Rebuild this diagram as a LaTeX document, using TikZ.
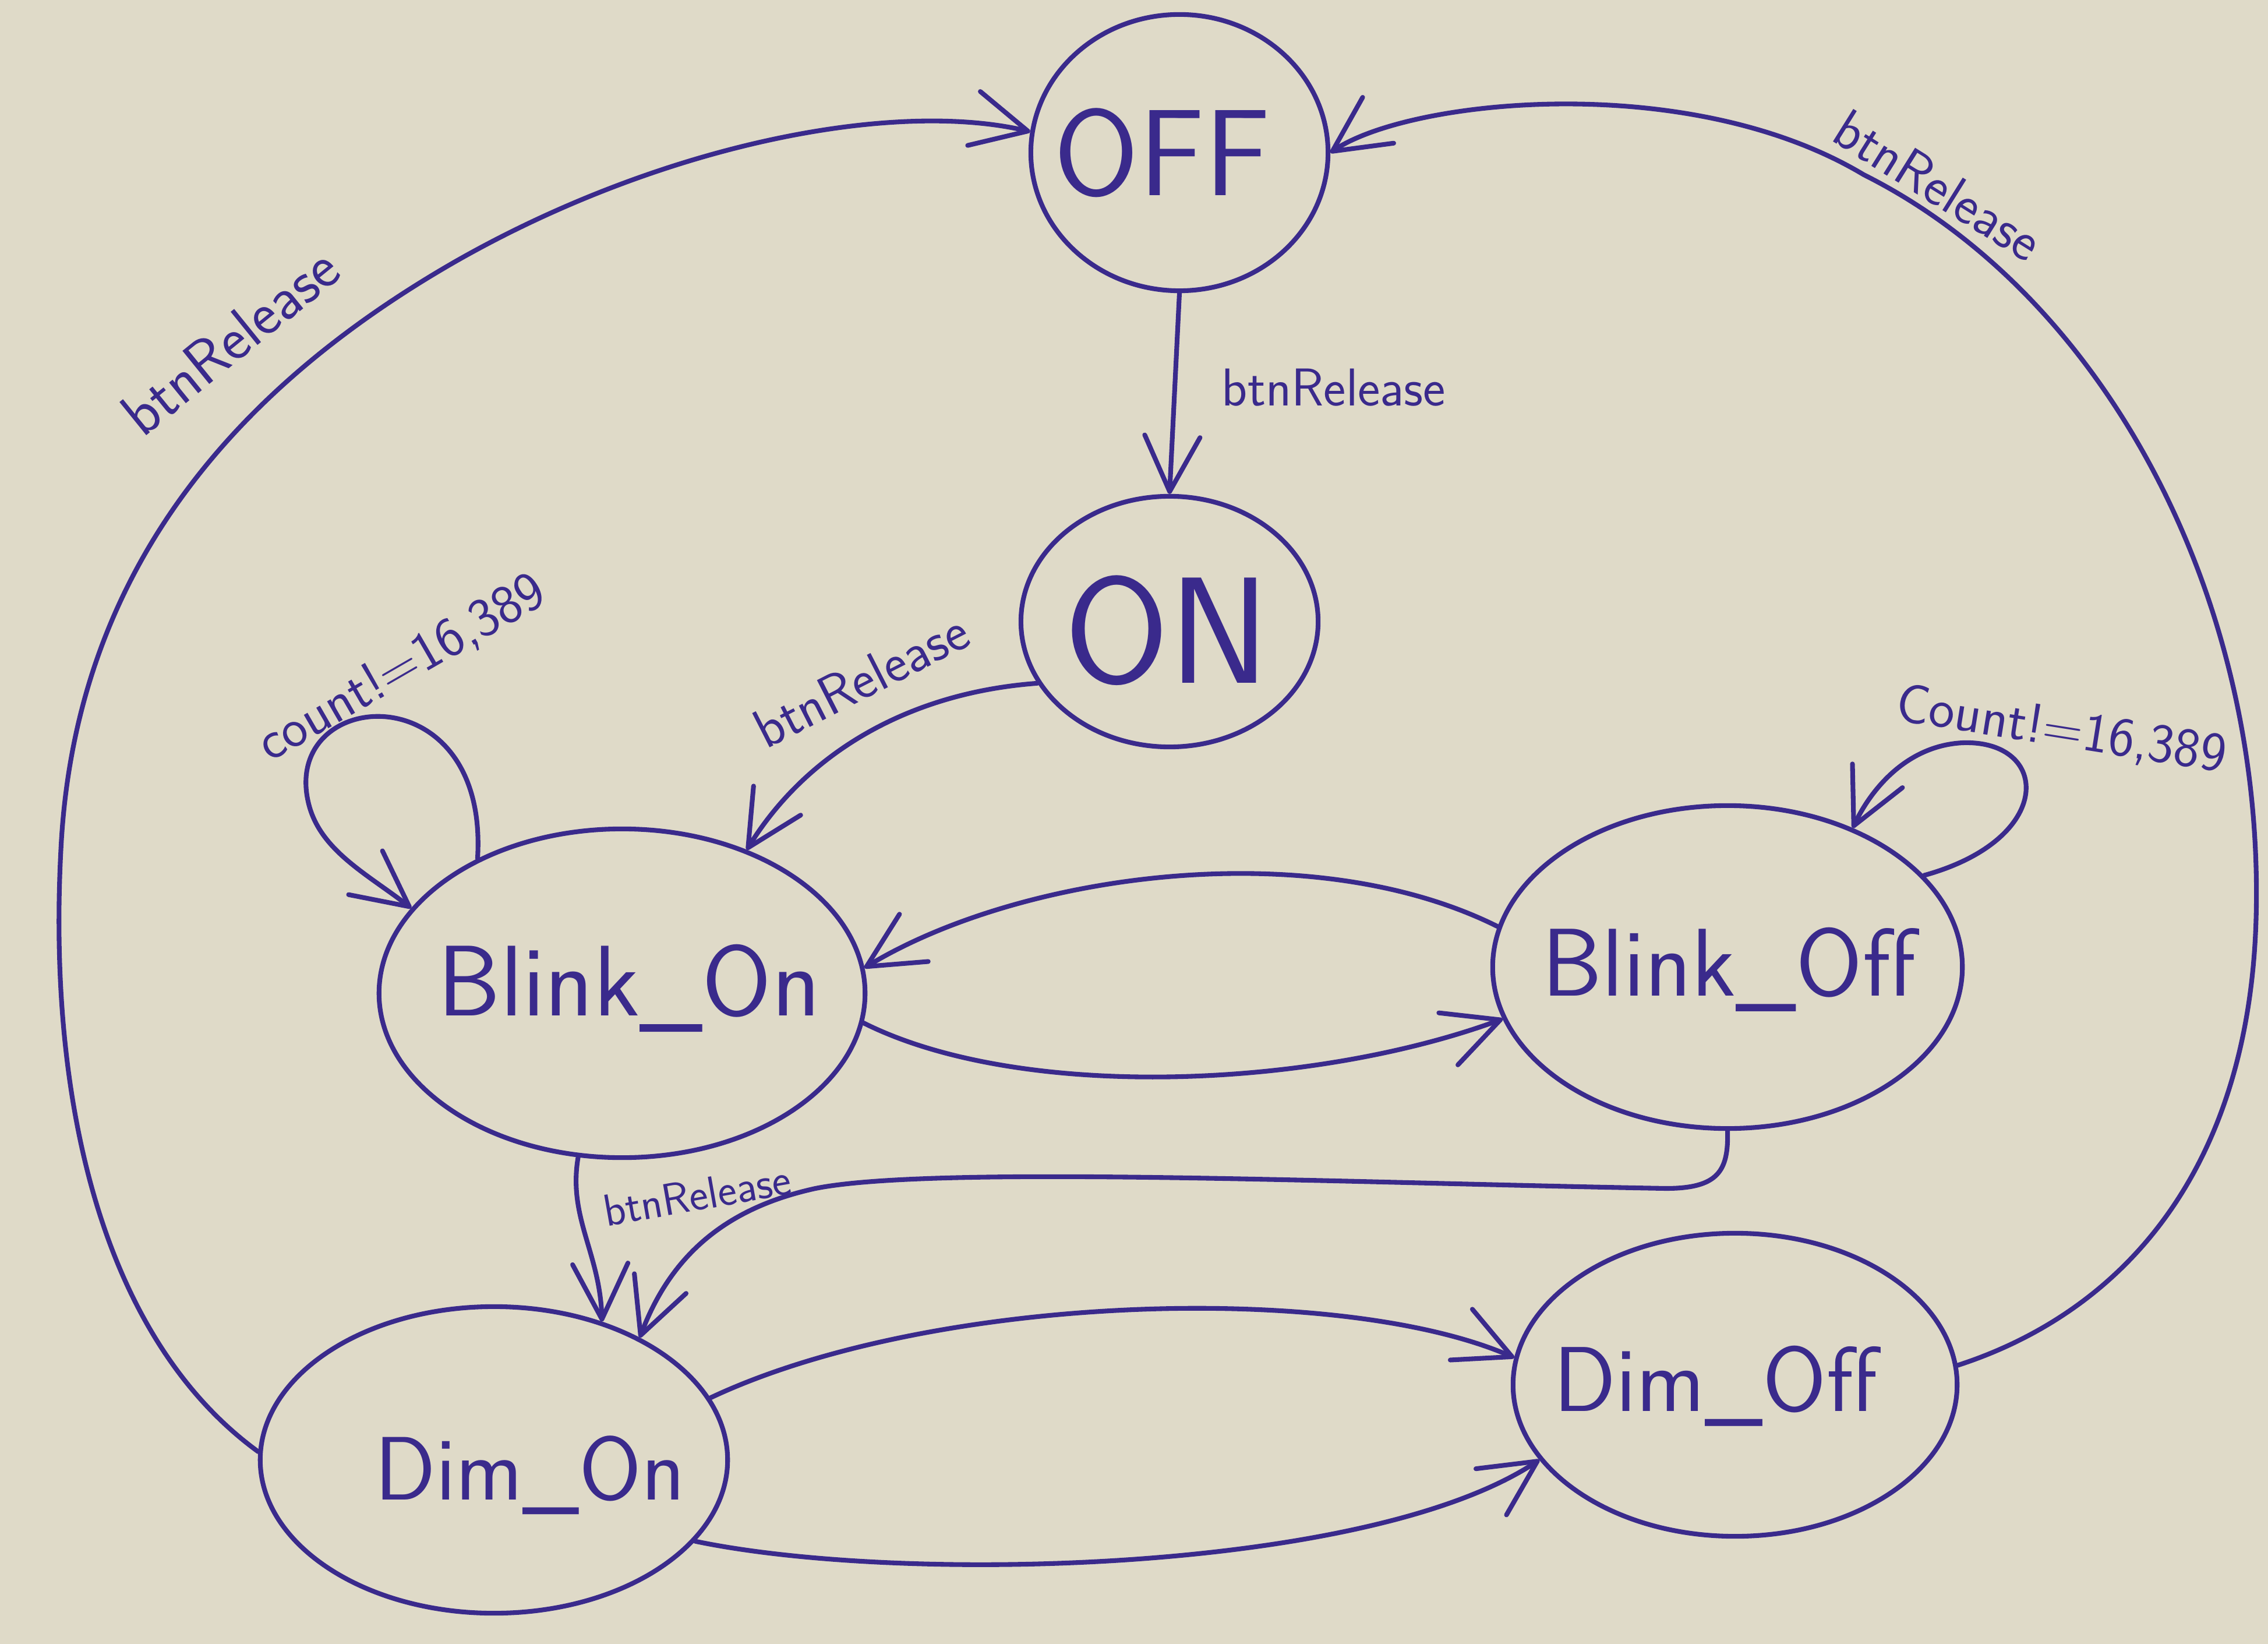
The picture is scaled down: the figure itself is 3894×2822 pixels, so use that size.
\documentclass[tikz,border=0pt]{standalone}
\usepackage{fontspec}
\usetikzlibrary{shapes.geometric,arrows.meta}
\definecolor{pen}{RGB}{58,42,140}
\definecolor{paper}{RGB}{223,218,200}
\begin{document}
\begin{tikzpicture}[x=0.01cm,y=-0.01cm,
  state/.style={ellipse,draw=pen,line width=2.3pt,inner sep=0pt},
  stext/.style={text=pen,inner sep=0pt,font=\sffamily\fontsize{#1}{#1}\selectfont},
  stext/.default=48,
  edge/.style={draw=pen,line width=2.3pt,line cap=round,line join=round,
    -{Straight Barb[length=0.95cm,width=0.95cm,round]}},
  lbl/.style={text=pen,inner sep=0pt,font=\sffamily\fontsize{#1}{#1}\selectfont},
  lbl/.default=26]
\fill[paper] (0,0) rectangle (3894,2822);
\useasboundingbox (0,0) rectangle (3894,2822);

% states
\node[state,minimum width=5.1cm,minimum height=4.74cm] (OFF) at (2025,262) {};
\node[stext=60] (OFFt) at (1995,262) {OFF};
\node[state,minimum width=5.1cm,minimum height=4.3cm] (ON) at (2008,1067) {};
\node[stext=74] (ONt) at (2004,1082) {ON};
\node[state,minimum width=8.34cm,minimum height=5.64cm] (BlinkOn) at (1068,1705) {};
\node[stext=49] (BlinkOnt) at (1080,1696) {Blink\_On};
\node[state,minimum width=8.06cm,minimum height=5.54cm] (BlinkOff) at (2966,1660) {};
\node[stext=47] (BlinkOfft) at (2968,1664) {Blink\_Off};
\node[state,minimum width=8.02cm,minimum height=5.26cm] (DimOn) at (848,2506) {};
\node[stext=44] (DimOnt) at (910,2532) {Dim\_On};
\node[state,minimum width=7.62cm,minimum height=5.2cm] (DimOff) at (2979,2377) {};
\node[stext=45] (DimOfft) at (2945,2379) {Dim\_Off};

% transitions
\draw[edge] (DimOn.178) .. controls (180,2300) and (80,1900) .. (105,1450)
  .. controls (130,1000) and (380,680) .. (780,450)
  .. controls (1130,250) and (1530,170) .. (OFF.172);
\draw[edge] (DimOff.5) .. controls (3650,2250) and (3870,2000) .. (3874,1550)
  .. controls (3880,1000) and (3600,500) .. (3200,300)
  .. controls (2900,120) and (2420,170) .. (OFF.0);
\draw[edge] (OFF.south) -- (ON.north);
\draw[edge] (ON.205) .. controls (1550,1190) and (1380,1300) .. (BlinkOn.49);
\draw[edge] (BlinkOn.137) .. controls (840,1150) and (480,1180) .. (530,1380)
  .. controls (550,1460) and (630,1500) .. (BlinkOn.158);
\draw[edge] (BlinkOff.25) .. controls (3530,1440) and (3520,1270) .. (3370,1275)
  .. controls (3270,1280) and (3210,1360) .. (BlinkOff.48);
\draw[edge] (BlinkOff.170) .. controls (2250,1430) and (1750,1500) .. (BlinkOn.6);
\draw[edge] (BlinkOn.353) .. controls (1750,1890) and (2250,1870) .. (BlinkOff.193);
\draw[edge] (BlinkOn.255) .. controls (975,2090) and (1030,2150) .. (DimOn.52);
\draw[edge] (BlinkOff.south) .. controls (2968,2010) and (2950,2040) .. (2860,2040)
  .. controls (2300,2030) and (1600,2000) .. (1400,2040)
  .. controls (1240,2075) and (1150,2160) .. (DimOn.40);
\draw[edge] (DimOn.16) .. controls (1600,2220) and (2300,2200) .. (DimOff.173);
\draw[edge] (DimOn.338) .. controls (1550,2720) and (2350,2700) .. (DimOff.201);

% labels
\node[lbl=30,rotate=39] (l1) at (395,585) {btnRelease};
\node[lbl=27,rotate=-32] (l2) at (3328,318) {btnRelease};
\node[lbl] (l3) at (2290,665) {btnRelease};
\node[lbl=27,rotate=27] (l4) at (1478,1167) {btnRelease};
\node[lbl=27,rotate=30] (l5) at (690,1147) {count!=16,389};
\node[lbl=27,rotate=-9] (l6) at (3539,1254) {Count!=16,389};
\node[lbl=22,rotate=10] (l7) at (1197,2051) {btnRelease};
\end{tikzpicture}
\end{document}
